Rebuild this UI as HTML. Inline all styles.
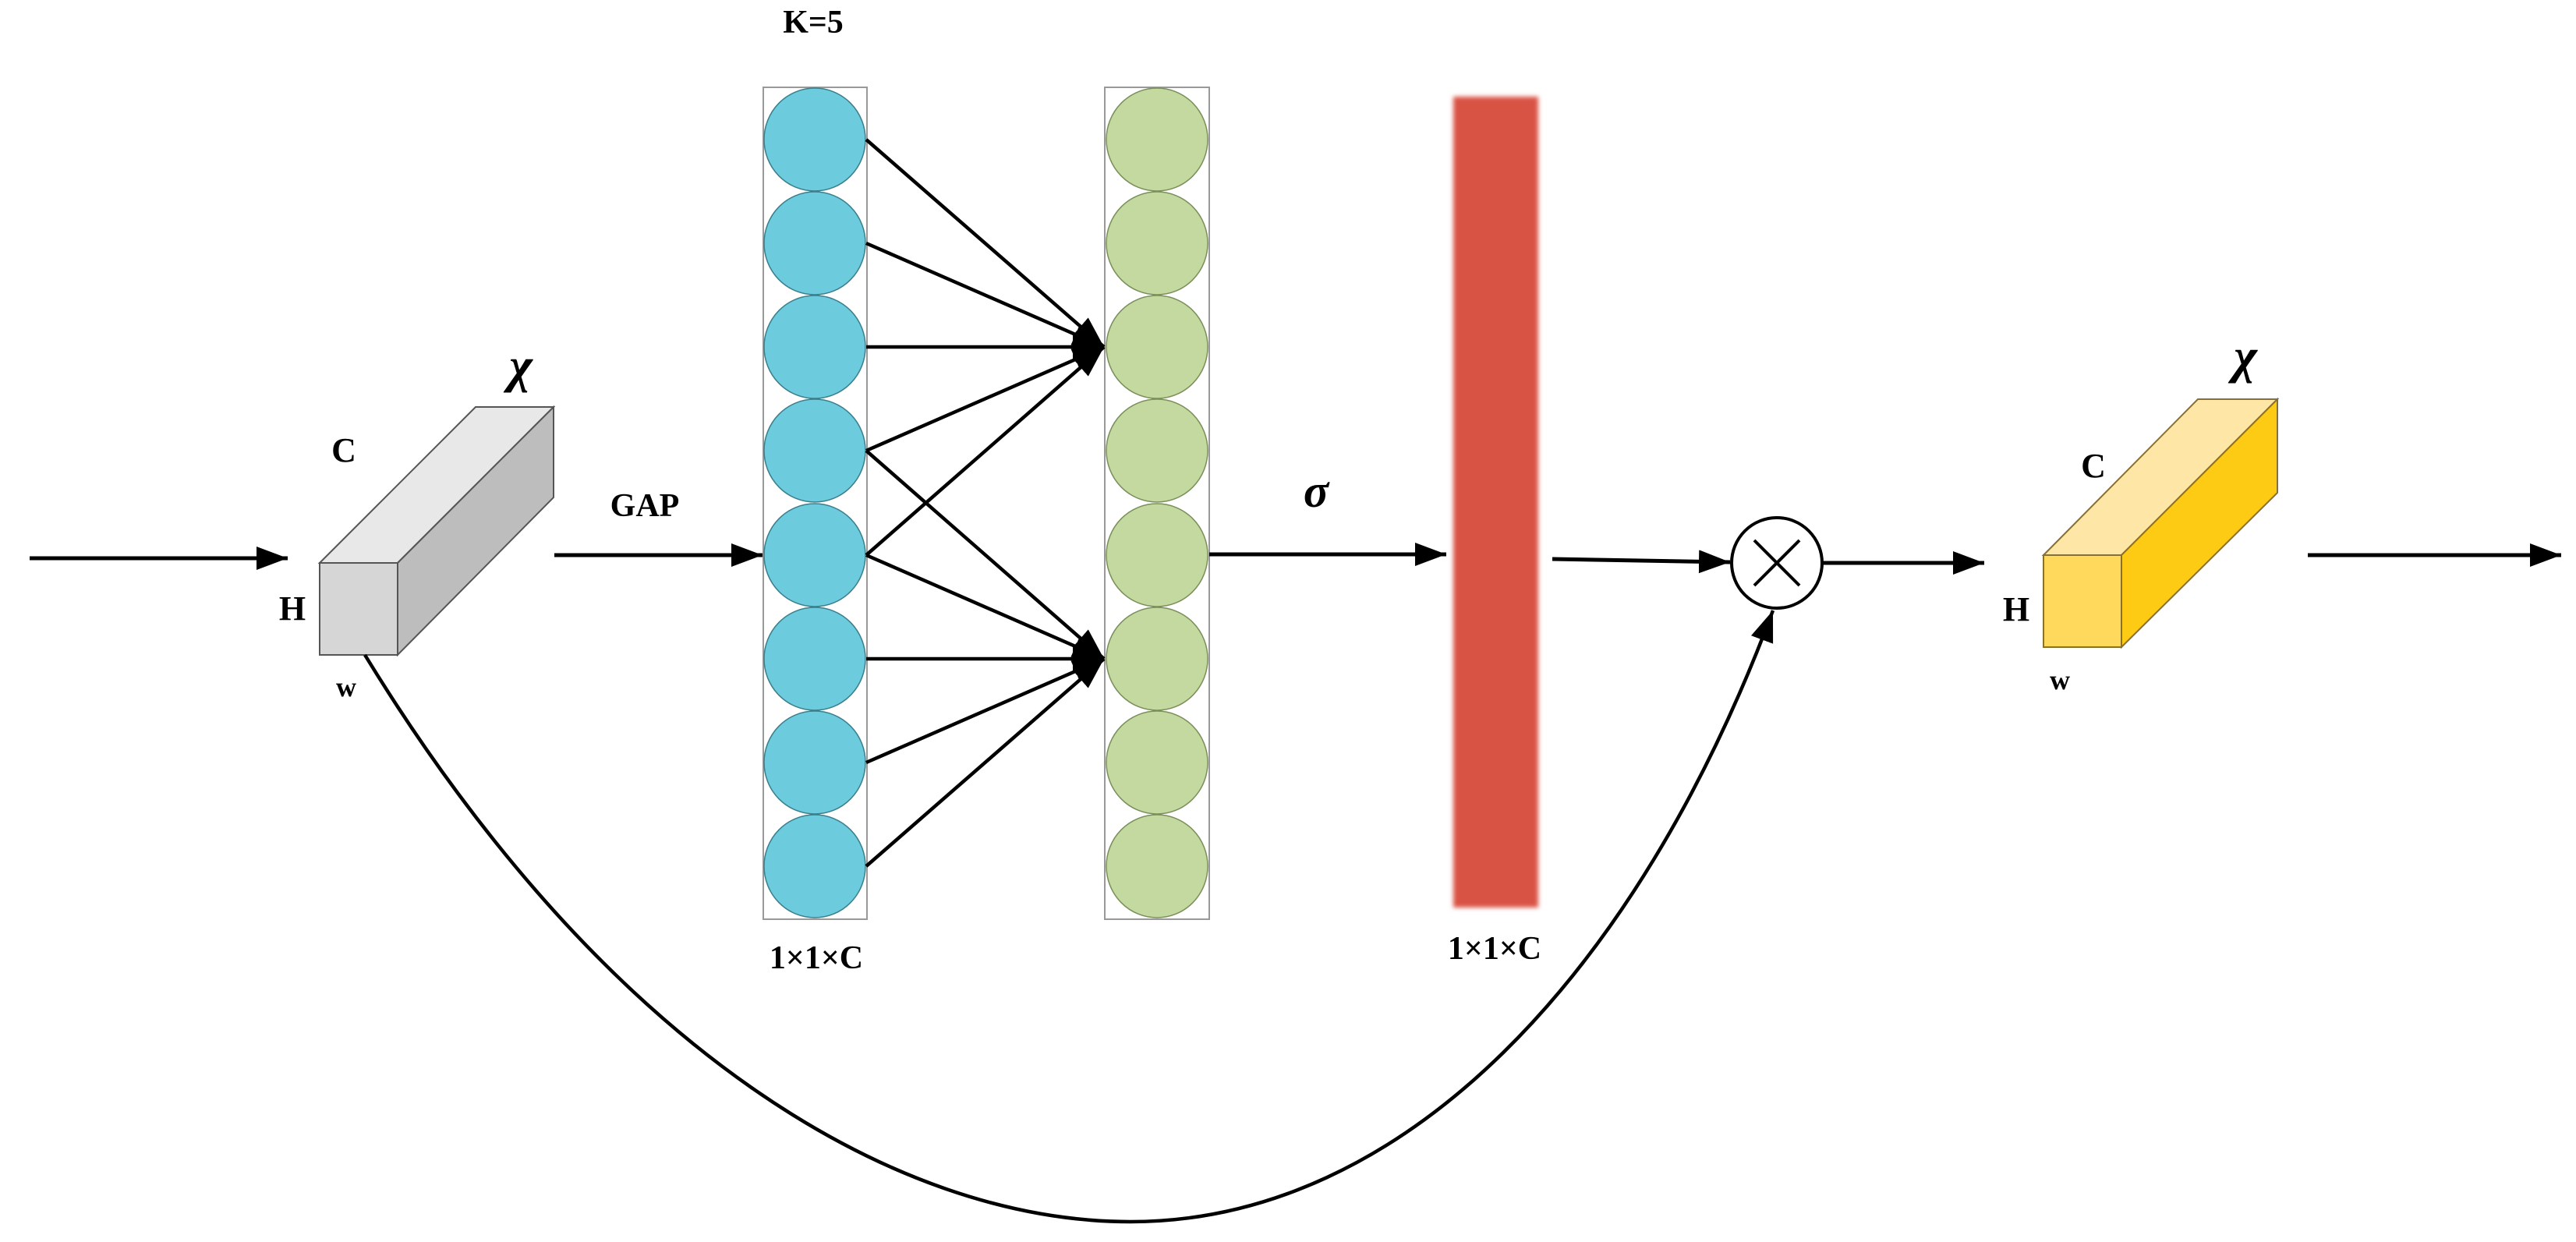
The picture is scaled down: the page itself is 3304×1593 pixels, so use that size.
<!DOCTYPE html>
<html><head><meta charset="utf-8"><style>
html,body{margin:0;padding:0;background:#fff;}
svg{display:block;}
text{font-family:"Liberation Serif",serif;font-weight:bold;fill:#000;}
</style></head><body>
<svg width="3304" height="1593" viewBox="0 0 3304 1593" xmlns="http://www.w3.org/2000/svg">
<defs>
<marker id="ah" markerWidth="10" markerHeight="8" refX="9" refY="4" orient="auto" markerUnits="userSpaceOnUse" viewBox="0 0 10 8">
</marker>
<marker id="a" viewBox="0 0 10 10" refX="10" refY="5" markerWidth="40" markerHeight="30" markerUnits="userSpaceOnUse" orient="auto" preserveAspectRatio="none">
<path d="M0,0 L10,5 L0,10 z" fill="#000"/>
</marker>
<filter id="bl"><feGaussianBlur stdDeviation="3"/></filter>
</defs>

<!-- input arrow -->
<line x1="38" y1="716" x2="369" y2="716" stroke="#000" stroke-width="5" marker-end="url(#a)"/>

<!-- gray box -->
<polygon points="410,722 610,522 710,522 510,722" fill="#e8e8e8" stroke="#555" stroke-width="2"/>
<polygon points="510,722 710,522 710,638 510,840" fill="#bdbdbd" stroke="#555" stroke-width="2"/>
<rect x="410" y="722" width="100" height="118" fill="#d6d6d6" stroke="#555" stroke-width="2"/>
<text x="441" y="592" font-size="44" text-anchor="middle">C</text>
<text x="375" y="795" font-size="44" text-anchor="middle">H</text>
<text x="444" y="893" font-size="36" text-anchor="middle">w</text>
<text x="668" y="490" font-size="64" font-style="italic" font-weight="normal" text-anchor="middle">χ</text>

<!-- GAP -->
<text x="827" y="662" font-size="42" text-anchor="middle">GAP</text>
<line x1="711" y1="712" x2="978" y2="712" stroke="#000" stroke-width="5" marker-end="url(#a)"/>

<!-- blue column -->
<rect x="979" y="112" width="133" height="1067" fill="none" stroke="#999" stroke-width="2"/>
<g fill="#6ccbdc" stroke="#3b7f8c" stroke-width="1.5">
<ellipse cx="1045" cy="179" rx="65" ry="66"/>
<ellipse cx="1045" cy="312" rx="65" ry="66"/>
<ellipse cx="1045" cy="445" rx="65" ry="66"/>
<ellipse cx="1045" cy="578" rx="65" ry="66"/>
<ellipse cx="1045" cy="712" rx="65" ry="66"/>
<ellipse cx="1045" cy="845" rx="65" ry="66"/>
<ellipse cx="1045" cy="978" rx="65" ry="66"/>
<ellipse cx="1045" cy="1111" rx="65" ry="66"/>
</g>
<text x="1047" y="1242" font-size="42" text-anchor="middle">1×1×C</text>

<!-- green column -->
<rect x="1417" y="112" width="134" height="1067" fill="none" stroke="#999" stroke-width="2"/>
<g fill="#c3d9a0" stroke="#7a8f5a" stroke-width="1.5">
<ellipse cx="1484" cy="179" rx="65" ry="66"/>
<ellipse cx="1484" cy="312" rx="65" ry="66"/>
<ellipse cx="1484" cy="445" rx="65" ry="66"/>
<ellipse cx="1484" cy="578" rx="65" ry="66"/>
<ellipse cx="1484" cy="712" rx="65" ry="66"/>
<ellipse cx="1484" cy="845" rx="65" ry="66"/>
<ellipse cx="1484" cy="978" rx="65" ry="66"/>
<ellipse cx="1484" cy="1111" rx="65" ry="66"/>
</g>
<text x="1043" y="42" font-size="42" text-anchor="middle">K=5</text>

<!-- connections -->
<g stroke="#000" stroke-width="4.5" marker-end="url(#a)">
<line x1="1111" y1="179" x2="1416" y2="445"/>
<line x1="1111" y1="312" x2="1416" y2="445"/>
<line x1="1111" y1="445" x2="1416" y2="445"/>
<line x1="1111" y1="578" x2="1416" y2="445"/>
<line x1="1111" y1="712" x2="1416" y2="445"/>
<line x1="1111" y1="578" x2="1416" y2="845"/>
<line x1="1111" y1="712" x2="1416" y2="845"/>
<line x1="1111" y1="845" x2="1416" y2="845"/>
<line x1="1111" y1="978" x2="1416" y2="845"/>
<line x1="1111" y1="1111" x2="1416" y2="845"/>
</g>

<!-- sigma -->
<text x="1688" y="650" font-size="60" font-style="italic" font-weight="normal" text-anchor="middle">σ</text>
<line x1="1551" y1="711" x2="1855" y2="711" stroke="#000" stroke-width="5" marker-end="url(#a)"/>

<!-- red bar -->
<rect x="1864" y="124" width="109" height="1040" fill="#d95345" filter="url(#bl)"/>
<text x="1917" y="1230" font-size="42" text-anchor="middle">1×1×C</text>

<!-- to otimes -->
<line x1="1991" y1="717" x2="2219" y2="721" stroke="#000" stroke-width="5" marker-end="url(#a)"/>
<circle cx="2279" cy="722" r="58" fill="#fff" stroke="#000" stroke-width="4"/>
<line x1="2250" y1="693" x2="2308" y2="751" stroke="#000" stroke-width="4"/>
<line x1="2308" y1="693" x2="2250" y2="751" stroke="#000" stroke-width="4"/>
<line x1="2337" y1="722" x2="2545" y2="722" stroke="#000" stroke-width="5" marker-end="url(#a)"/>

<!-- skip curve -->
<path d="M468 840 C 780 1350, 1150 1567, 1450 1567 C 1800 1567, 2100 1250, 2274 783" fill="none" stroke="#000" stroke-width="4.5" marker-end="url(#a)"/>

<!-- yellow box -->
<polygon points="2621,712 2819,512 2921,512 2721,712" fill="#fde6a6" stroke="#8a7030" stroke-width="2"/>
<polygon points="2721,712 2921,512 2921,632 2721,830" fill="#fecb14" stroke="#8a7030" stroke-width="2"/>
<rect x="2621" y="712" width="100" height="118" fill="#fed95c" stroke="#8a7030" stroke-width="2"/>
<text x="2685" y="612" font-size="44" text-anchor="middle">C</text>
<text x="2586" y="796" font-size="44" text-anchor="middle">H</text>
<text x="2642" y="884" font-size="36" text-anchor="middle">w</text>
<text x="2880" y="478" font-size="64" font-style="italic" font-weight="normal" text-anchor="middle">χ</text>

<!-- output arrow -->
<line x1="2960" y1="712" x2="3285" y2="712" stroke="#000" stroke-width="5" marker-end="url(#a)"/>
</svg>
</body></html>
